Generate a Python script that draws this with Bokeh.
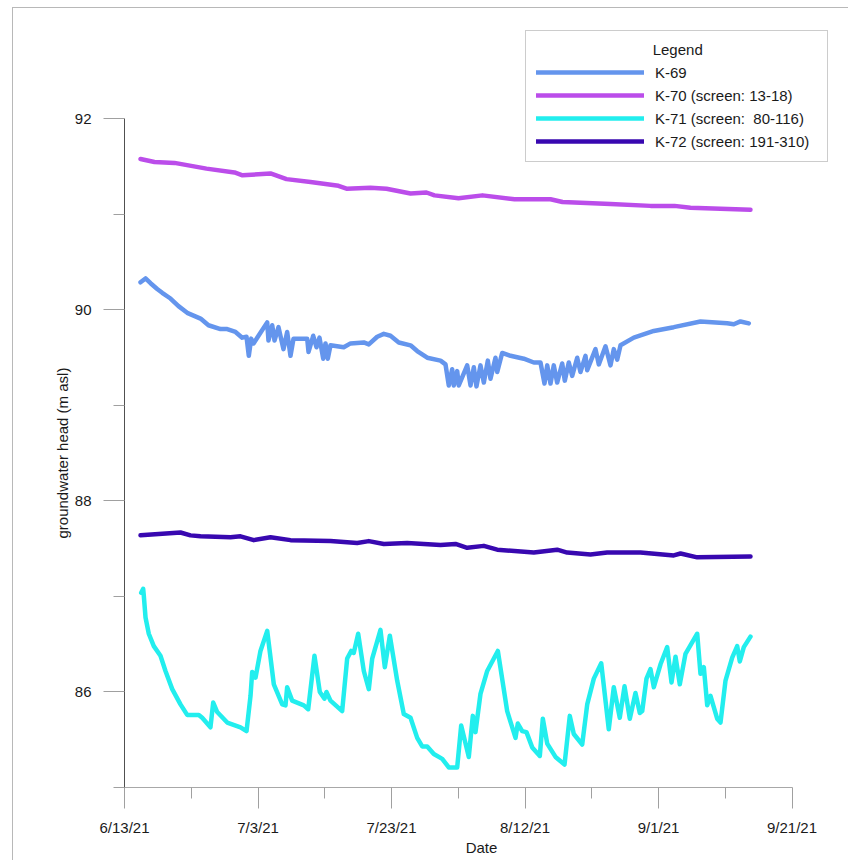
import pandas as pd
from bokeh.plotting import figure
from bokeh.models import Range1d, FixedTicker, DatetimeTickFormatter, Legend, LegendItem, Title
from bokeh.embed import file_html
from bokeh.resources import INLINE

START = pd.Timestamp("2021-06-13")

# ---- data (days after 6/13/21, groundwater head in m asl) ----
k69_day = [2.40, 3.15, 3.90, 4.90, 5.65, 6.89, 8.09, 9.39, 11.39, 12.58, 14.38, 15.39, 16.63, 17.63,
           18.28, 18.62, 18.98, 19.33, 21.38, 21.57, 22.13, 22.47, 23.07, 23.82, 24.37, 24.87, 25.32,
           27.37, 27.57, 28.27, 28.76, 29.21, 29.77, 30.11, 30.46, 30.86, 32.85, 33.86, 35.85, 36.60,
           37.86, 38.85, 39.85, 41.09, 42.85, 43.85, 45.35, 47.34, 48.09, 48.58, 49.09, 49.33, 49.84,
           50.08, 51.34, 51.84, 52.33, 52.73, 53.33, 53.83, 54.43, 54.83, 55.58, 55.84, 56.58, 57.83,
           59.82, 61.32, 62.32, 62.92, 63.33, 63.82, 64.31, 64.82, 65.57, 65.96, 66.56, 67.07, 67.82,
           68.31, 69.06, 69.32, 70.56, 71.06, 72.06, 72.81, 73.30, 73.81, 74.31, 76.30, 79.30, 82.29,
           86.29, 90.29, 91.28, 92.28, 93.53]
k69_head = [90.29, 90.33, 90.28, 90.22, 90.18, 90.12, 90.04, 89.97, 89.91, 89.84, 89.80, 89.80, 89.77, 89.71,
            89.72, 89.52, 89.70, 89.65, 89.87, 89.68, 89.84, 89.68, 89.82, 89.59, 89.77, 89.52, 89.70,
            89.70, 89.56, 89.73, 89.61, 89.71, 89.49, 89.65, 89.49, 89.63, 89.61, 89.65, 89.66, 89.64,
            89.72, 89.75, 89.73, 89.66, 89.63, 89.57, 89.50, 89.47, 89.43, 89.21, 89.38, 89.21, 89.36,
            89.21, 89.42, 89.21, 89.40, 89.20, 89.42, 89.24, 89.47, 89.28, 89.50, 89.35, 89.55, 89.52,
            89.49, 89.45, 89.45, 89.23, 89.42, 89.23, 89.42, 89.24, 89.44, 89.26, 89.45, 89.31, 89.50,
            89.35, 89.52, 89.37, 89.59, 89.43, 89.62, 89.42, 89.59, 89.48, 89.63, 89.71, 89.78, 89.82,
            89.88, 89.86, 89.85, 89.88, 89.86]

k70_day = [2.40, 4.49, 7.49, 12.28, 16.48, 17.68, 21.87, 24.27, 27.87, 32.06, 33.26, 36.85, 39.25,
           42.85, 45.24, 46.44, 50.04, 53.63, 58.43, 63.82, 65.62, 72.81, 78.80, 82.40, 84.79, 93.78]
k70_head = [91.58, 91.55, 91.54, 91.48, 91.44, 91.41, 91.43, 91.37, 91.34, 91.30, 91.27, 91.28, 91.27,
            91.22, 91.23, 91.20, 91.17, 91.20, 91.16, 91.16, 91.13, 91.11, 91.09, 91.09, 91.07, 91.05]

k71_day = [2.50, 2.80, 2.89, 3.15, 3.64, 4.39, 5.39, 6.14, 7.15, 8.39, 9.39, 11.13, 11.64, 12.88, 13.29,
           13.89, 15.39, 17.38, 18.28, 18.88, 19.13, 19.63, 20.37, 21.38, 22.37, 23.63, 24.12, 24.37,
           25.12, 26.86, 27.52, 28.46, 29.26, 29.96, 30.26, 30.86, 32.61, 33.36, 33.96, 34.35, 35.01,
           35.85, 36.60, 37.11, 38.35, 39.00, 39.75, 40.85, 41.84, 42.85, 43.85, 44.60, 45.35, 46.34,
           47.60, 48.58, 49.84, 50.44, 51.58, 52.18, 52.58, 53.33, 54.34, 55.93, 57.33, 58.58, 58.92,
           59.58, 60.22, 61.08, 62.22, 62.67, 63.33, 64.57, 65.92, 66.71, 67.31, 68.57, 69.32, 70.31,
           71.42, 72.55, 73.30, 74.20, 74.91, 75.70, 76.55, 77.20, 77.56, 78.20, 78.80, 79.30, 80.30,
           81.30, 81.95, 82.55, 83.19, 84.04, 85.80, 86.29, 86.79, 87.30, 87.79, 88.79, 89.29, 90.04,
           91.04, 91.79, 92.18, 92.78, 93.78]
k71_head = [87.04, 87.08, 87.01, 86.78, 86.61, 86.48, 86.38, 86.22, 86.03, 85.87, 85.76, 85.76, 85.73, 85.63, 85.89,
            85.79, 85.68, 85.63, 85.59, 85.96, 86.21, 86.15, 86.43, 86.64, 86.08, 85.87, 85.86, 86.05,
            85.91, 85.86, 85.82, 86.38, 86.00, 85.93, 86.00, 85.91, 85.80, 86.35, 86.43, 86.41, 86.61,
            86.22, 86.03, 86.35, 86.65, 86.26, 86.59, 86.12, 85.77, 85.73, 85.52, 85.43, 85.43, 85.35,
            85.30, 85.21, 85.21, 85.65, 85.32, 85.75, 85.58, 85.98, 86.22, 86.43, 85.80, 85.52, 85.67,
            85.59, 85.58, 85.42, 85.33, 85.72, 85.46, 85.32, 85.24, 85.75, 85.56, 85.45, 85.87, 86.14,
            86.30, 85.61, 86.05, 85.73, 86.06, 85.72, 85.99, 85.78, 85.80, 86.14, 86.24, 86.05, 86.29,
            86.47, 86.10, 86.37, 86.08, 86.40, 86.61, 86.19, 86.26, 85.86, 85.96, 85.72, 85.68, 86.12,
            86.36, 86.48, 86.32, 86.47, 86.58]

k72_day = [2.40, 8.39, 9.89, 11.39, 15.88, 17.38, 19.37, 21.87, 24.87, 30.86, 34.86, 36.60, 38.85,
           42.35, 47.34, 49.59, 51.34, 53.83, 55.84, 61.32, 64.82, 66.32, 69.81, 72.31, 77.30, 82.29,
           83.30, 85.80, 93.78]
k72_head = [87.64, 87.67, 87.64, 87.63, 87.62, 87.63, 87.59, 87.62, 87.59, 87.58, 87.56, 87.58, 87.55,
            87.56, 87.54, 87.55, 87.51, 87.53, 87.49, 87.46, 87.49, 87.46, 87.44, 87.46, 87.46, 87.43,
            87.45, 87.41, 87.42]

series_names = ["K-69", "K-70 (screen: 13-18)", "K-71 (screen:  80-116)", "K-72 (screen: 191-310)"]
series_colors = ["#6495ED", "#BB4DEA", "#22EEEE", "#3808B0"]

x_major_dates = ["2021-06-13", "2021-07-03", "2021-07-23", "2021-08-12", "2021-09-01", "2021-09-21"]
x_minor_dates = ["2021-06-23", "2021-07-13", "2021-08-02", "2021-08-22", "2021-09-11"]
y_major = [86, 88, 90, 92]
y_minor = [85, 87, 89, 91]


def to_dt(days):
    return START + pd.to_timedelta(days, unit="D")


def ms(s):
    return pd.Timestamp(s).value // 10**6


FONT = "Liberation Sans"

p = figure(
    x_axis_type="datetime",
    frame_width=714, frame_height=767,
    min_border_left=111, min_border_right=10, min_border_top=12, min_border_bottom=73,
    x_range=Range1d(START, START + pd.Timedelta(days=106.966)),
    y_range=Range1d(85, 93.031),
    toolbar_location=None, output_backend="svg",
)
p.styles = {"margin-top": "7px", "margin-left": "12px",
            "border-top": "1px solid #b8b8b8", "border-left": "1px solid #b8b8b8"}
p.outline_line_color = None
p.xgrid.visible = False
p.ygrid.visible = False
p.background_fill_color = "white"
p.border_fill_color = "white"

data = [(k69_day, k69_head), (k70_day, k70_head), (k71_day, k71_head), (k72_day, k72_head)]
renderers = []
for (d, h), c in zip(data, series_colors):
    r = p.line(to_dt(d), h, line_color=c, line_width=4.5, line_join="round", line_cap="round")
    renderers.append(r)

# x axis
xa = p.xaxis[0]
xa.ticker = FixedTicker(ticks=[ms(s) for s in x_major_dates], minor_ticks=[ms(s) for s in x_minor_dates])
fmt = "%-m/%-d/%y"
xa.formatter = DatetimeTickFormatter(days=fmt, months=fmt, years=fmt, hours=fmt, hourmin=fmt)
xa.bounds = (pd.Timestamp(x_major_dates[0]), pd.Timestamp(x_major_dates[-1]))
xa.axis_label = "Date"

# y axis
ya = p.yaxis[0]
ya.ticker = FixedTicker(ticks=y_major, minor_ticks=y_minor)
ya.bounds = (85, 92)

for ax in (xa, ya):
    ax.major_tick_in = 0
    ax.minor_tick_in = 0
    ax.major_tick_out = 21
    ax.minor_tick_out = 11
    ax.major_tick_line_color = "#a0a0a0"
    ax.minor_tick_line_color = "#a0a0a0"
    ax.major_label_text_font = FONT
    ax.major_label_text_font_size = "15px"
    ax.major_label_text_color = "#1a1a1a"
    ax.axis_label_text_font = FONT
    ax.axis_label_text_font_size = "15px"
    ax.axis_label_text_font_style = "normal"
    ax.axis_label_text_color = "#1a1a1a"
    ax.major_label_standoff = 12
    ax.axis_label_standoff = 0

xa.major_label_standoff = 10
xa.axis_line_color = "#a8a8a8"
ya.axis_line_color = "#505050"

legend = Legend(
    items=[LegendItem(label=n, renderers=[r]) for n, r in zip(series_names, renderers)],
    location="top_right",
    title="\u00a0" * 28 + "Legend", title_text_font=FONT, title_text_font_size="15px",
    title_text_color="#1a1a1a", title_text_font_style="normal",
    title_standoff=4,
    label_text_font=FONT, label_text_font_size="15px", label_text_color="#1a1a1a",
    glyph_width=108, glyph_height=20, label_height=20, label_width=162,
    label_standoff=11, spacing=3, padding=10, margin=10,
    border_line_color="#999999", border_line_width=1,
    background_fill_color="white", background_fill_alpha=1,
)
p.add_layout(legend)

# y axis title, placed so that it is centred on the bounded (85-92) axis
p.add_layout(Title(text="groundwater head (m asl)", align="left", offset=249,
                   vertical_align="middle", standoff=0, text_font=FONT, text_font_size="15px",
                   text_font_style="normal", text_color="#1a1a1a"), "left")

open("out.html", "w").write(file_html(p, INLINE))
